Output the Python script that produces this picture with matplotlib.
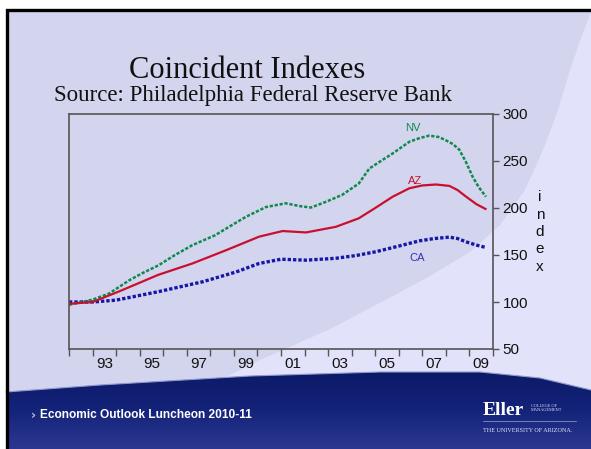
import numpy as np
import matplotlib
matplotlib.use("Agg")
import matplotlib.pyplot as plt
from matplotlib.patches import Polygon, Rectangle
from matplotlib.colors import LinearSegmentedColormap

# data (index, 1992 = ~100)
nv_years = [1992.0, 1993.0, 1993.7, 1994.55, 1995.1, 1995.8, 1996.5, 1997.24, 1998.2,
            1998.93, 1999.5, 2000.36, 2001.2, 2001.8, 2002.27, 2002.9, 2003.6, 2004.3,
            2004.75, 2005.3, 2005.74, 2006.45, 2006.9, 2007.3, 2007.7, 2008.0, 2008.3,
            2008.57, 2008.85, 2009.14, 2009.4, 2009.7]
nv_vals = [97, 102.5, 109, 123, 130.5, 139, 150, 160.5, 171,
           182, 190.5, 201, 205, 202, 200.5, 206.5, 214, 226,
           242, 251, 258, 270.5, 274.5, 277, 275.5, 272, 268,
           262, 249, 233, 222, 212]

az_years = [1992.0, 1993.0, 1994.1, 1995.0, 1995.8, 1997.24, 1998.66, 2000.07, 2001.07,
            2002.06, 2003.33, 2004.3, 2005.0, 2005.74, 2006.45, 2007.0, 2007.58, 2008.15,
            2008.5, 2008.86, 2009.3, 2009.68]
az_vals = [98, 100, 111, 120.5, 129, 141, 155, 169.5, 175.5,
           174, 180, 189, 200, 212, 221, 224, 225, 223.5,
           219, 212, 204, 199]

ca_years = [1992.0, 1993.0, 1994.0, 1995.8, 1997.67, 1999.1, 2000.07, 2001.0, 2002.06,
            2003.33, 2004.2, 2005.03, 2006.0, 2006.87, 2007.5, 2008.15, 2008.5, 2008.86,
            2009.3, 2009.7]
ca_vals = [100, 100, 102, 111, 121.5, 132, 141, 145.5, 144.5,
           146.5, 149.5, 153.5, 159.5, 165, 167.5, 169, 167.5, 164,
           160.5, 158]

year_labels = ['93', '95', '97', '99', '01', '03', '05', '07', '09']
label_years = [1993.5, 1995.5, 1997.5, 1999.5, 2001.5, 2003.5, 2005.5, 2007.5, 2009.5]
y_ticks = [50, 100, 150, 200, 250, 300]

W, H = 591, 449
fig = plt.figure(figsize=(W / 100, H / 100), dpi=100)
fig.patch.set_facecolor('white')

# slide background, in pixel coords
bg = fig.add_axes([0, 0, 1, 1], zorder=0)
bg.axis('off')

bg.add_patch(Rectangle((6, 9), W, H, facecolor='#d3d4ee', edgecolor='none', zorder=1))
swoosh = [(591, 12), (582, 35), (570, 70), (558, 110), (543, 150), (525, 190), (500, 225),
          (470, 252), (430, 276), (393, 296), (330, 329), (260, 360), (220, 380),
          (220, 420), (591, 420)]
bg.add_patch(Polygon(swoosh, closed=True, facecolor='#e2e2fa', edgecolor='none', zorder=1))

band = [(6, 392), (100, 385), (250, 376), (380, 372), (480, 372), (540, 378),
        (591, 390), (591, 449), (6, 449)]
band_patch = Polygon(band, closed=True, facecolor='none', edgecolor='none')
bg.add_patch(band_patch)
grad = np.linspace(0, 1, 100).reshape(-1, 1)
cmap = LinearSegmentedColormap.from_list('navy', ['#0b1a66', '#14237a', '#2b3891'])
im = bg.imshow(grad, extent=[0, W, H, 370], origin='upper', aspect='auto', cmap=cmap,
               zorder=2)
im.set_clip_path(band_patch)
bg.plot([x for x, y in band[:7]], [y for x, y in band[:7]], color='#8f98cc', lw=0.8,
        zorder=3)

# black slide frame
bg.plot([6.5, 6.5, W], [H, 9.5, 9.5], color='black', lw=2.4, solid_joinstyle='miter',
        zorder=4)
bg.plot([483, 576], [421, 421], color='#9aa3cf', lw=0.5, zorder=4)

bg.set_xlim(0, W)
bg.set_ylim(H, 0)

# titles
fig.text(247 / W, 1 - 78 / H, 'Coincident Indexes', ha='center', va='baseline',
         family='Liberation Serif', fontsize=22, color='#111111')
fig.text(253 / W, 1 - 101 / H, 'Source: Philadelphia Federal Reserve Bank', ha='center',
         va='baseline', family='Liberation Serif', fontsize=16.5, color='#111111')

# footer
fig.text(31 / W, 1 - 415 / H, '›', ha='left', va='center', color='#b8bedc',
         fontsize=9, fontweight='bold')
fig.text(40 / W, 1 - 415 / H, 'Economic Outlook Luncheon 2010-11', ha='left', va='center',
         color='white', family='Liberation Sans', fontweight='bold', fontsize=8.6)
fig.text(483 / W, 1 - 415 / H, 'Eller', ha='left', va='baseline', color='white',
         family='Liberation Serif', fontweight='bold', fontsize=14)
fig.text(531 / W, 1 - 408 / H, 'COLLEGE OF\nMANAGEMENT', ha='left', va='center',
         color='#dfe2f2', family='Liberation Serif', fontsize=3.2, linespacing=1.1)
fig.text(483 / W, 1 - 431 / H, 'THE UNIVERSITY OF ARIZONA.', ha='left', va='center',
         color='#dfe2f2', family='Liberation Serif', fontsize=4.4)

# chart
ax = fig.add_axes([69 / W, 1 - 349 / H, (493 - 69) / W, (349 - 114) / H], zorder=1)
ax.patch.set_alpha(0)

ax.plot(ca_years, ca_vals, color='#1616a8', lw=2.4, linestyle=(0, (1.0, 0.6)))
ax.plot(nv_years, nv_vals, color='#0e8a4c', lw=1.8, linestyle=(0, (1.3, 0.7)))
ax.plot(az_years, az_vals, color='#c8102e', lw=1.6)

ax.text(2006.6, 285, 'NV', color='#0e8a4c', fontsize=8, family='Liberation Sans',
        ha='center', va='center')
ax.text(2006.7, 228.5, 'AZ', color='#c8102e', fontsize=8, family='Liberation Sans',
        ha='center', va='center')
ax.text(2006.8, 147, 'CA', color='#3232b8', fontsize=8, family='Liberation Sans',
        ha='center', va='center')

ax.set_xlim(1992, 2010)
ax.set_ylim(50, 300)
ax.set_xticks(range(1992, 2011))
ax.set_xticklabels([])
ax.set_xticks(label_years, minor=True)
ax.set_xticklabels(year_labels, minor=True)
ax.tick_params(axis='x', which='major', direction='out', length=5, width=1, color='#555555')
ax.tick_params(axis='x', which='minor', length=0, pad=6, labelsize=11)

ax.yaxis.tick_right()
ax.set_yticks(y_ticks)
ax.tick_params(axis='y', direction='out', length=4, width=1, color='#555555', pad=3,
               labelsize=11)
for lab in ax.get_xticklabels(minor=True) + ax.get_yticklabels():
    lab.set_family('Liberation Sans')
    lab.set_color('#111111')
for sp in ax.spines.values():
    sp.set_color('#555555')
    sp.set_linewidth(1.2)

fig.text(540 / W, 1 - 232 / H, 'i\nn\nd\ne\nx', ha='center', va='center',
         family='Liberation Sans', fontsize=11, linespacing=1.3, color='#111111')

fig.savefig('out.png', dpi=100)
